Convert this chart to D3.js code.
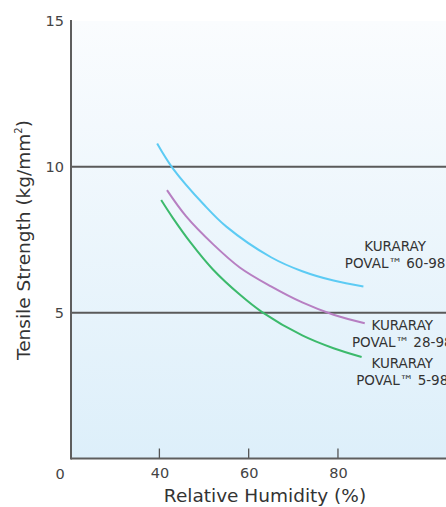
<!DOCTYPE html>
<html><head><meta charset="utf-8">
<script src="https://cdn.jsdelivr.net/npm/d3@7"></script>
<style>body{margin:0;background:#fff;}svg{display:block;}</style>
</head><body><svg id="c" width="446" height="507"></svg>
<script>
const xTicks = [40, 60, 80];
const yTicks = [5, 10, 15];
const gridValues = [5, 10];
const series = ["KURARAY POVAL™ 60-98", "KURARAY POVAL™ 28-98", "KURARAY POVAL™ 5-98"];
const cyanX = [39.5, 43, 50, 55, 65, 72, 79, 85.7];
const cyanY = [10.8, 9.95, 8.7, 7.95, 6.9, 6.42, 6.1, 5.9];
const purpleX = [41.7, 46, 52, 58, 65, 72, 79, 86];
const purpleY = [9.2, 8.3, 7.35, 6.55, 5.9, 5.35, 4.93, 4.64];
const greenX = [40.4, 43, 47, 52, 58, 63, 72, 79, 85.3];
const greenY = [8.86, 8.25, 7.4, 6.48, 5.62, 5.02, 4.22, 3.78, 3.48];
const labelLines = [["KURARAY", "POVAL\u2122 60-98"], ["KURARAY", "POVAL\u2122 28-98"], ["KURARAY", "POVAL\u2122 5-98"]];
const colors = ["#5ccbf4", "#b77fc2", "#3cba6c"];

const svg = d3.select("#c");
const pLeft = 71, pRight = 446, pTop = 21, pBottom = 458.5;
const x = d3.scaleLinear().domain([20.2, 104.2]).range([pLeft, pRight]);
const y = d3.scaleLinear().domain([0, 15]).range([pBottom, pTop]);

const defs = svg.append("defs");
const g = defs.append("linearGradient").attr("id", "bg").attr("x1", 0).attr("y1", 0).attr("x2", 0).attr("y2", 1);
g.append("stop").attr("offset", "0%").attr("stop-color", "#fafcfe");
g.append("stop").attr("offset", "100%").attr("stop-color", "#ddeffa");

svg.append("rect").attr("x", pLeft).attr("y", y(15)).attr("width", pRight - pLeft).attr("height", pBottom - y(15)).attr("fill", "url(#bg)");

// gridlines
svg.selectAll(".grid").data(gridValues).enter().append("line")
  .attr("x1", pLeft).attr("x2", pRight).attr("y1", d => y(d)).attr("y2", d => y(d))
  .attr("stroke", "#5a5a5a").attr("stroke-width", 2);

// curves
const data = [[cyanX, cyanY], [purpleX, purpleY], [greenX, greenY]];
const line = d3.line().x(d => x(d[0])).y(d => y(d[1])).curve(d3.curveCatmullRom.alpha(0.5));
data.forEach((s, i) => {
  const pts = s[0].map((v, j) => [v, s[1][j]]);
  svg.append("path").attr("d", line(pts)).attr("fill", "none").attr("stroke", colors[i]).attr("stroke-width", 2);
});

// axes
const tickFont = "DejaVu Sans";
const xAxis = d3.axisBottom(x).tickValues(xTicks).tickSize(0).tickPadding(9);
const xg = svg.append("g").attr("transform", `translate(0,${pBottom})`).call(xAxis);
xg.select(".domain").remove();
xg.selectAll("text").attr("font-family", tickFont).attr("font-size", 14.5).attr("fill", "#444");
svg.selectAll(".xt").data(xTicks).enter().append("line")
  .attr("x1", d => x(d)).attr("x2", d => x(d)).attr("y1", pBottom).attr("y2", pBottom - 10)
  .attr("stroke", "#555").attr("stroke-width", 1.3);
svg.append("line").attr("x1", pLeft).attr("x2", pRight).attr("y1", pBottom).attr("y2", pBottom).attr("stroke", "#5e5e5e").attr("stroke-width", 2);

const yAxis = d3.axisLeft(y).tickValues(yTicks).tickSize(0).tickPadding(7);
const yg = svg.append("g").attr("transform", `translate(${pLeft},0)`).call(yAxis);
yg.select(".domain").remove();
yg.selectAll("text").attr("font-family", tickFont).attr("font-size", 14.5).attr("fill", "#444");
svg.append("line").attr("x1", pLeft).attr("x2", pLeft).attr("y1", y(15) - 1).attr("y2", pBottom + 1).attr("stroke", "#5e5e5e").attr("stroke-width", 2);

svg.append("text").attr("x", 60).attr("y", 479).attr("text-anchor", "middle")
  .attr("font-family", tickFont).attr("font-size", 14.5).attr("fill", "#444").text("0");

// axis titles
svg.append("text").attr("x", 265).attr("y", 502).attr("text-anchor", "middle")
  .attr("font-family", "DejaVu Sans").attr("font-size", 18.5).attr("fill", "#333").text("Relative Humidity (%)");
const yt = svg.append("text").attr("transform", "translate(30,240) rotate(-90)").attr("text-anchor", "middle")
  .attr("font-family", "DejaVu Sans").attr("font-size", 18.5).attr("fill", "#333");
yt.append("tspan").text("Tensile Strength (kg/mm");
yt.append("tspan").attr("font-size", 10).attr("dy", -8).text("2");
yt.append("tspan").attr("dy", 8).text(")");

// series labels (anchored to data coordinates)
const labelAnchorX = [92.8, 94.4, 94.4];
const labelAnchorY = [7.1, 4.4, 3.1];
labelLines.forEach((ls, i) => {
  const t = svg.append("text").attr("text-anchor", "middle").attr("font-family", "DejaVu Sans")
    .attr("font-size", 13.5).attr("fill", "#333");
  ls.forEach((l, j) => {
    t.append("tspan").attr("x", x(labelAnchorX[i])).attr("y", y(labelAnchorY[i]) + j * 16.5).text(l);
  });
});
</script></body></html>
